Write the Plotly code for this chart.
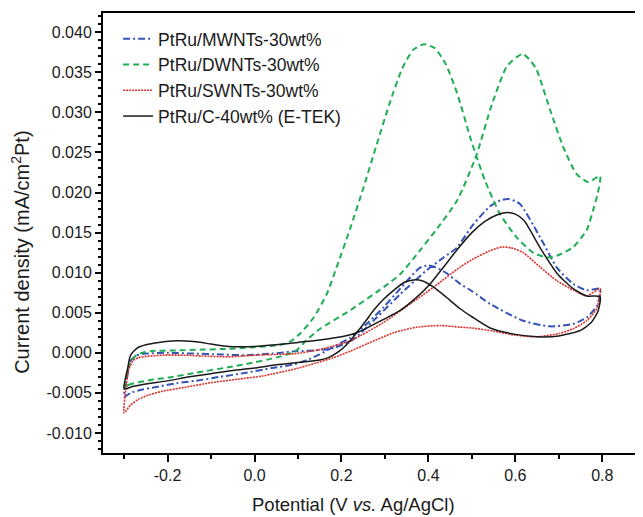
import plotly.graph_objects as go

# ---------------- data (potential V vs Ag/AgCl, current density mA/cm2 Pt) -------------
series_names = ["PtRu/MWNTs-30wt%", "PtRu/DWNTs-30wt%", "PtRu/SWNTs-30wt%", "PtRu/C-40wt% (E-TEK)"]

# PtRu/MWNTs-30wt%  (closed CV loop, scan order)
mwnt_v = [-0.300, -0.293, -0.285, -0.270, -0.250, -0.200, -0.140, -0.080, -0.020, 0.040, 0.094,
          0.140, 0.182, 0.228, 0.281, 0.335, 0.396, 0.435, 0.465, 0.503, 0.542, 0.565, 0.583,
          0.610, 0.657, 0.696, 0.733, 0.764, 0.795,
          0.788, 0.764, 0.733, 0.680, 0.618, 0.542, 0.500, 0.473, 0.440, 0.415, 0.398, 0.380,
          0.358, 0.330, 0.297, 0.260, 0.220, 0.180, 0.150, 0.120, 0.094, 0.040, -0.020, -0.080,
          -0.136, -0.180, -0.220, -0.260, -0.285, -0.300]
mwnt_i = [-0.0055, -0.0030, -0.0010, -0.0003, -0.0001, 0.0000, -0.0001, -0.0002, -0.0003, -0.0001, 0.0002,
          0.0003, 0.0006, 0.0017, 0.0044, 0.0073, 0.0103, 0.0119, 0.0131, 0.0160, 0.0183, 0.0190, 0.0192,
          0.0186, 0.0144, 0.0106, 0.0086, 0.0078, 0.0080,
          0.0059, 0.0044, 0.0036, 0.0033, 0.0040, 0.0061, 0.0077, 0.0086, 0.0100, 0.0107, 0.0109, 0.0106,
          0.0094, 0.0077, 0.0057, 0.0037, 0.0019, 0.0007, -0.0002, -0.0009, -0.0014, -0.0019, -0.0025, -0.0030,
          -0.0035, -0.0038, -0.0042, -0.0046, -0.0050, -0.0055]

# PtRu/DWNTs-30wt%
dwnt_v = [-0.300, -0.290, -0.240, -0.200, -0.136, -0.050, -0.020, 0.050, 0.094, 0.120, 0.151, 0.220,
          0.297, 0.335, 0.381, 0.420, 0.466, 0.510, 0.546, 0.580, 0.603, 0.617, 0.634, 0.649, 0.680,
          0.710, 0.741, 0.768, 0.795,
          0.790, 0.780, 0.764, 0.733, 0.695, 0.672, 0.641, 0.603, 0.565, 0.530, 0.510, 0.496, 0.466,
          0.440, 0.415, 0.390, 0.365, 0.340, 0.310, 0.280, 0.250, 0.220, 0.189, 0.166, 0.136, 0.105,
          0.085, 0.060, 0.000, -0.060, -0.120, -0.180, -0.240, -0.270, -0.285, -0.300]
dwnt_i = [-0.0045, -0.0040, -0.0034, -0.0031, -0.0025, -0.0017, -0.0014, -0.0006, 0.0002, 0.0016, 0.0030, 0.0053,
          0.0082, 0.0098, 0.0128, 0.0155, 0.0190, 0.0246, 0.0310, 0.0357, 0.0369, 0.0373, 0.0365, 0.0353, 0.0303,
          0.0257, 0.0223, 0.0213, 0.0221,
          0.0200, 0.0180, 0.0153, 0.0132, 0.0121, 0.0119, 0.0125, 0.0144, 0.0173, 0.0215, 0.0246, 0.0269, 0.0324,
          0.0360, 0.0380, 0.0385, 0.0378, 0.0355, 0.0310, 0.0258, 0.0205, 0.0155, 0.0107, 0.0073, 0.0044, 0.0024,
          0.0015, 0.0010, 0.0007, 0.0005, 0.0004, 0.0003, 0.0002, -0.0002, -0.0012, -0.0045]

# PtRu/SWNTs-30wt%
swnt_v = [-0.300, -0.296, -0.290, -0.280, -0.267, -0.240, -0.212, -0.160, -0.120, -0.060, 0.000, 0.050,
          0.094, 0.150, 0.220, 0.297, 0.358, 0.412, 0.473, 0.503, 0.540, 0.569, 0.590, 0.618, 0.657,
          0.695, 0.734, 0.764, 0.795,
          0.787, 0.764, 0.733, 0.700, 0.650, 0.600, 0.550, 0.500, 0.473, 0.427, 0.373, 0.320, 0.258,
          0.220, 0.182, 0.140, 0.094, 0.018, -0.040, -0.097, -0.160, -0.212, -0.240, -0.267, -0.285, -0.300]
swnt_i = [-0.0075, -0.0045, -0.0022, -0.0010, -0.0006, -0.0004, -0.0003, -0.0003, -0.0004, -0.0005, -0.0003, -0.0002,
          -0.0001, 0.0004, 0.0015, 0.0038, 0.0061, 0.0082, 0.0107, 0.0117, 0.0127, 0.0132, 0.0131, 0.0125, 0.0107,
          0.0090, 0.0078, 0.0071, 0.0080,
          0.0055, 0.0040, 0.0030, 0.0024, 0.0020, 0.0022, 0.0027, 0.0031, 0.0032, 0.0034, 0.0032, 0.0025, 0.0011,
          0.0002, -0.0006, -0.0013, -0.0020, -0.0029, -0.0033, -0.0037, -0.0043, -0.0048, -0.0052, -0.0058, -0.0065, -0.0075]

# PtRu/C-40wt% (E-TEK)
etek_v = [-0.300, -0.292, -0.285, -0.270, -0.250, -0.220, -0.180, -0.140, -0.100, -0.060, 0.000, 0.050,
          0.100, 0.150, 0.200, 0.235, 0.280, 0.335, 0.370, 0.404, 0.435, 0.465, 0.500, 0.530, 0.557,
          0.580, 0.600, 0.620, 0.657, 0.696, 0.733, 0.764, 0.795,
          0.790, 0.775, 0.750, 0.700, 0.650, 0.600, 0.542, 0.500, 0.473, 0.442, 0.412, 0.385, 0.366,
          0.345, 0.320, 0.295, 0.274, 0.255, 0.235, 0.215, 0.195, 0.170, 0.150, 0.100, 0.050, 0.000,
          -0.050, -0.100, -0.150, -0.200, -0.250, -0.280, -0.300]
etek_i = [-0.0045, -0.0020, -0.0003, 0.0006, 0.0010, 0.0013, 0.0015, 0.0014, 0.0011, 0.0008, 0.0008, 0.0010,
          0.0013, 0.0016, 0.0020, 0.0025, 0.0037, 0.0053, 0.0068, 0.0086, 0.0107, 0.0128, 0.0150, 0.0164, 0.0172,
          0.0175, 0.0173, 0.0165, 0.0131, 0.0099, 0.0080, 0.0071, 0.0070,
          0.0052, 0.0038, 0.0028, 0.0021, 0.0020, 0.0023, 0.0031, 0.0045, 0.0055, 0.0069, 0.0082, 0.0090, 0.0091,
          0.0088, 0.0078, 0.0066, 0.0053, 0.0039, 0.0025, 0.0012, 0.0002, -0.0006, -0.0009, -0.0012, -0.0015, -0.0019,
          -0.0022, -0.0026, -0.0030, -0.0035, -0.0039, -0.0042, -0.0045]

x_tick_vals = [-0.2, 0.0, 0.2, 0.4, 0.6, 0.8]
x_tick_text = ["-0.2", "0.0", "0.2", "0.4", "0.6", "0.8"]
x_minor_vals = [-0.3, -0.1, 0.1, 0.3, 0.5, 0.7]
y_tick_vals = [-0.010, -0.005, 0.000, 0.005, 0.010, 0.015, 0.020, 0.025, 0.030, 0.035, 0.040]
y_tick_text = ["-0.010", "-0.005", "0.000", "0.005", "0.010", "0.015", "0.020", "0.025",
               "0.030", "0.035", "0.040"]

# ---------------- figure -------------
FONT = "Liberation Sans, Arial, sans-serif"
fig = go.Figure()

styles = [
    dict(color="#3553b8", width=2.0, dash="7px,3px,2px,3px"),
    dict(color="#1fae55", width=2.0, dash="6px,4px"),
    dict(color="#d9302a", width=1.6, dash="2px,1px"),
    dict(color="#1a1a1a", width=1.5, dash="solid"),
]
datasets = [(mwnt_v, mwnt_i), (dwnt_v, dwnt_i), (swnt_v, swnt_i), (etek_v, etek_i)]

for name, (vv, ii), st in zip(series_names, datasets, styles):
    fig.add_trace(go.Scatter(
        x=vv, y=ii, mode="lines", name=name,
        line=dict(color=st["color"], width=st["width"], dash=st["dash"],
                  shape="spline", smoothing=0.6),
    ))

# The page body adds an 8px offset, so the figure is 8px smaller and margins are compensated.
fig.update_layout(
    width=635, height=509,
    margin=dict(l=95, r=0, t=5, b=64, autoexpand=False),
    paper_bgcolor="white", plot_bgcolor="white",
    font=dict(family=FONT, size=16, color="#1a1a1a"),
    showlegend=True,
    legend=dict(x=0.028, y=0.982, xanchor="left", yanchor="top",
                bgcolor="rgba(0,0,0,0)", font=dict(size=17.5, family=FONT, color="#1a1a1a"),
                tracegroupgap=0, itemwidth=30),
    annotations=[
        dict(text="Potential (V <i>vs.</i> Ag/AgCl)", xref="paper", yref="paper",
             x=0.463, y=-0.118, xanchor="center", yanchor="middle", showarrow=False,
             font=dict(size=18.5, family=FONT, color="#1a1a1a")),
        dict(text="Current density (mA/cm<sup>2</sup>Pt)", xref="paper", yref="paper",
             x=-0.152, y=0.457, xanchor="center", yanchor="middle", showarrow=False,
             textangle=-90, font=dict(size=20, family=FONT, color="#1a1a1a")),
    ],
)

fig.update_xaxes(
    range=[-0.3485, 0.8936], showgrid=False, zeroline=False, automargin=False,
    showline=True, linewidth=2, linecolor="black", mirror=True,
    ticks="outside", ticklen=7, tickwidth=2, tickcolor="black",
    tickmode="array", tickvals=x_tick_vals, ticktext=x_tick_text,
    tickfont=dict(size=16, family=FONT, color="#1a1a1a"),
    minor=dict(tickmode="array", tickvals=x_minor_vals, ticks="outside",
               ticklen=4, tickwidth=2, tickcolor="black", showgrid=False),
)
fig.update_yaxes(
    range=[-0.0125, 0.0424], showgrid=False, zeroline=False, automargin=False,
    showline=True, linewidth=2, linecolor="black", mirror=False,
    ticks="outside", ticklen=6, tickwidth=2, tickcolor="black",
    tickmode="array", tickvals=y_tick_vals, ticktext=y_tick_text,
    tickfont=dict(size=16, family=FONT, color="#1a1a1a"),
    minor=dict(tick0=0, dtick=0.001, ticks="outside", ticklen=3.5, tickwidth=1.5,
               tickcolor="black", showgrid=False),
)

fig.write_html("out.html")
